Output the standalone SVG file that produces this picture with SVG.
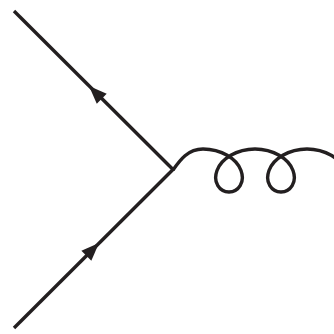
<svg xmlns="http://www.w3.org/2000/svg" width="334" height="334" viewBox="0 0 334 334">
<style>
.ln{fill:none;stroke:#231f20;stroke-width:3.4;stroke-linecap:butt}
.ar{fill:#231f20;stroke:none}
</style>
<rect width="334" height="334" fill="#ffffff"/>
<g id="connectors">
<line class="ln" x1="14" y1="11" x2="173.5" y2="170"/>
<line class="ln" x1="14" y1="328" x2="173.5" y2="169"/>
<path class="ln" d="M 173 170 C 180 160, 188 149, 203 149 C 221.15 149, 236.66 158.63, 241 170.5 C 245.34 182.37, 238.47 192, 229 192 C 219.53 192, 212.66 182.37, 217 170.5 C 221.34 158.63, 236.85 149, 255 149 C 273.15 149, 288.66 158.63, 293 170.5 C 297.34 182.37, 290.47 192, 281 192 C 271.53 192, 264.66 182.37, 269 170.5 C 273.34 158.63, 288.85 149, 307 149 C 325.15 149, 340.66 158.63, 345 170.5"/>
</g>
<g id="arrow-upper">
<polygon class="ar" points="89,86 106.7,93.7 96.8,103.7"/>
</g>
<g id="arrow-lower">
<polygon class="ar" points="99,243 91.3,260.7 81.4,250.8"/>
</g>
</svg>
